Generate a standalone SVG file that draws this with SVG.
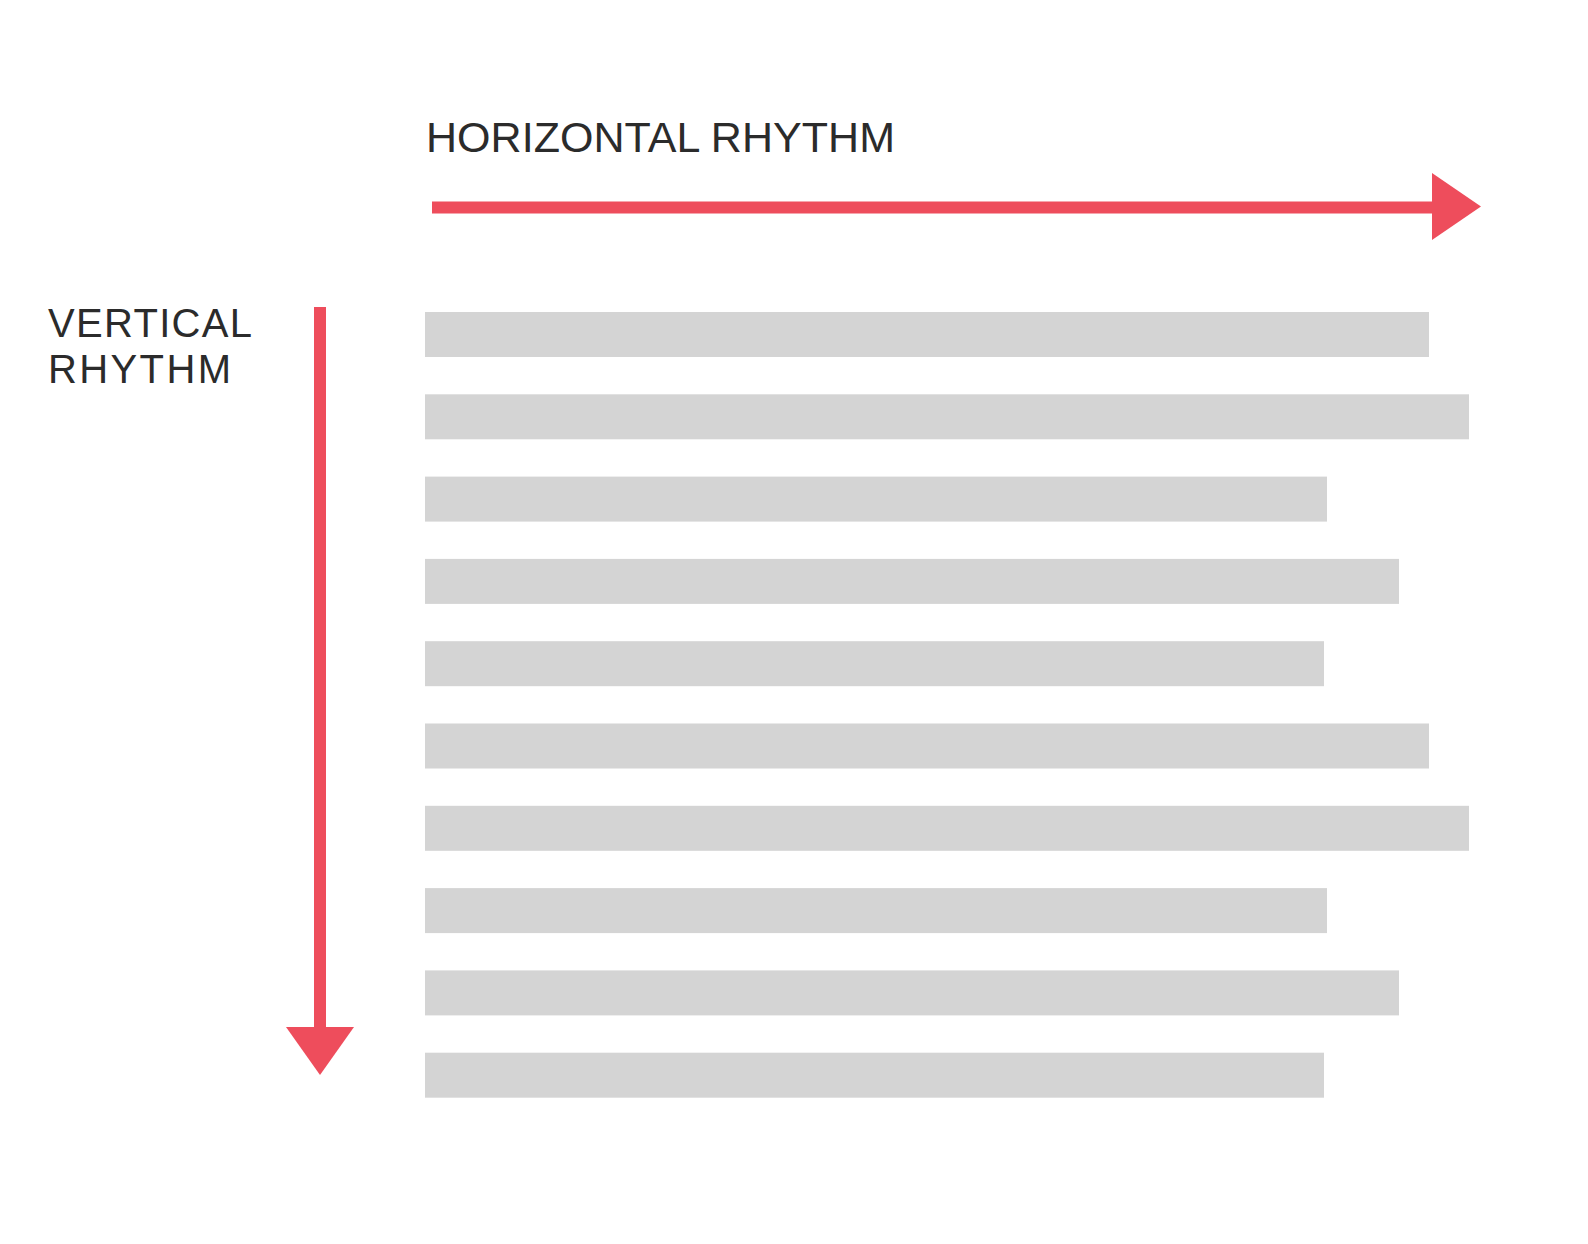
<svg xmlns="http://www.w3.org/2000/svg" width="1588" height="1244" viewBox="0 0 1588 1244">
<style>
.lbl{font-family:"Liberation Sans",Arial,sans-serif;fill:#2b2b2b}
.bar{fill:#d4d4d4}
.ax{stroke:#ee4d5c;stroke-width:12;fill:none}
.head{fill:#ee4d5c}
</style>
<rect width="1588" height="1244" fill="#ffffff"/>
<g id="label-horizontal"><text class="lbl" x="426" y="152" font-size="43" textLength="469" lengthAdjust="spacing">HORIZONTAL RHYTHM</text></g>
<g id="label-vertical"><text class="lbl" font-size="40"><tspan x="48" y="337" textLength="204" lengthAdjust="spacing">VERTICAL</tspan><tspan x="48" y="383" textLength="183" lengthAdjust="spacing">RHYTHM</tspan></text></g>
<g id="bars">
<rect class="bar" x="425" y="312" width="1004" height="45"/>
<rect class="bar" x="425" y="394.3" width="1044" height="45"/>
<rect class="bar" x="425" y="476.6" width="902" height="45"/>
<rect class="bar" x="425" y="558.9" width="974" height="45"/>
<rect class="bar" x="425" y="641.2" width="899" height="45"/>
<rect class="bar" x="425" y="723.5" width="1004" height="45"/>
<rect class="bar" x="425" y="805.8" width="1044" height="45"/>
<rect class="bar" x="425" y="888.1" width="902" height="45"/>
<rect class="bar" x="425" y="970.4" width="974" height="45"/>
<rect class="bar" x="425" y="1052.7" width="899" height="45"/>
</g>
<g id="connectors">
<line class="ax" x1="432" y1="207.5" x2="1436" y2="207.5"/>
<polygon class="head" points="1432,173 1481,206.5 1432,240"/>
<line class="ax" x1="320" y1="307" x2="320" y2="1030"/>
<polygon class="head" points="286,1027 354,1027 320,1075"/>
</g>
</svg>
